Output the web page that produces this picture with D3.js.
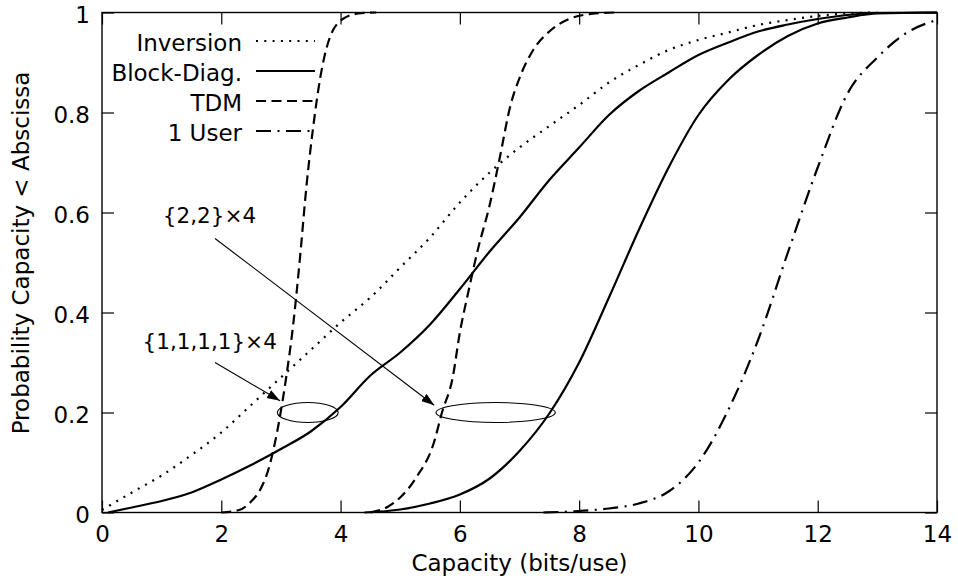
<!DOCTYPE html>
<html>
<head>
<meta charset="utf-8">
<script src="https://cdn.jsdelivr.net/npm/d3@7"></script>
<style>
  body { margin: 0; background: #fff; }
  text { font-family: "DejaVu Sans", sans-serif; font-size: 23px; fill: #000; }
  text.ann { font-size: 21.5px; }
</style>
</head>
<body>
<svg id="chart" width="958" height="579"></svg>
<script>
// CDF curves: [capacity (bits/use), probability]
const inversion = [[0,0.005],[0.5,0.04],[1,0.074],[1.5,0.115],[2,0.16],[2.5,0.215],[3,0.27],[3.5,0.325],
  [4,0.38],[4.5,0.43],[5,0.49],[5.5,0.55],[6,0.62],[6.5,0.68],[7,0.73],[7.5,0.773],[8,0.815],[8.5,0.86],
  [9,0.895],[9.5,0.925],[10,0.945],[10.5,0.96],[11,0.975],[11.5,0.985],[12,0.993],[12.5,0.998],[13,1]];
const blockDiag1111 = [[0.1,0],[0.5,0.01],[1,0.023],[1.5,0.04],[2,0.066],[2.5,0.095],[3,0.127],[3.5,0.162],
  [4,0.211],[4.5,0.274],[5,0.32],[5.5,0.376],[6,0.447],[6.5,0.522],[7,0.59],[7.5,0.665],[8,0.73],[8.5,0.795],
  [9,0.843],[9.5,0.88],[10,0.915],[10.5,0.94],[11,0.962],[11.5,0.976],[12,0.987],[12.5,0.995],[13,0.999],[14,1]];
const blockDiag22 = [[4.4,0],[5,0.006],[5.5,0.018],[6,0.036],[6.5,0.068],[7,0.123],[7.5,0.198],[8,0.3],
  [8.5,0.43],[9,0.565],[9.5,0.69],[10,0.795],[10.5,0.865],[11,0.915],[11.5,0.953],[12,0.978],[12.5,0.99],
  [13,0.998],[14,1]];
const tdm1111 = [[2.0,0],[2.3,0.005],[2.5,0.022],[2.65,0.045],[2.8,0.09],[2.95,0.17],[3.1,0.28],[3.2,0.37],
  [3.32,0.51],[3.43,0.655],[3.54,0.77],[3.66,0.87],[3.82,0.95],[4.05,0.988],[4.3,0.998],[4.6,1]];
const tdm22 = [[4.5,0],[4.8,0.012],[5.0,0.03],[5.28,0.072],[5.56,0.138],[5.7,0.2],[5.88,0.27],[6.0,0.36],
  [6.14,0.44],[6.3,0.525],[6.5,0.615],[6.67,0.71],[6.84,0.81],[7.01,0.872],[7.23,0.925],[7.5,0.962],
  [7.85,0.988],[8.2,0.997],[8.6,1]];
const oneUser = [[7.4,0],[8,0.003],[8.5,0.008],[9,0.018],[9.5,0.042],[10,0.1],[10.5,0.205],[11,0.345],
  [11.5,0.52],[12,0.69],[12.5,0.838],[13,0.91],[13.5,0.96],[14,0.985]];

const xTicks = [0, 2, 4, 6, 8, 10, 12, 14];
const yTicks = [0, 0.2, 0.4, 0.6, 0.8, 1];

const legendLabels = ['Inversion', 'Block-Diag.', 'TDM', '1 User'];

// annotation text, arrow start/end and ellipse (centre + radii) in data units
const annLabels = ['{1,1,1,1}×4', '{2,2}×4'];
const annTextAt = [[0.68, 0.327], [1.02, 0.579]];
const annArrowFrom = [[1.895, 0.3], [1.895, 0.548]];
const annArrowTo = [[2.985, 0.2236], [5.57, 0.2144]];
const annEllipse = [[3.45, 0.2, 0.51, 0.02], [6.6, 0.2, 1.0, 0.02]];

const styles = {
  dotted: '2,6.3',
  solid: null,
  dashed: '10,5.5',
  dashdot: '15,6.5,2,6.5'
};

const series = [
  { data: inversion, dash: styles.dotted },
  { data: blockDiag1111, dash: styles.solid },
  { data: blockDiag22, dash: styles.solid },
  { data: tdm1111, dash: styles.dashed },
  { data: tdm22, dash: styles.dashed },
  { data: oneUser, dash: styles.dashdot }
];
const legendDash = [styles.dotted, styles.solid, styles.dashed, styles.dashdot];

const svg = d3.select('#chart');
const x = d3.scaleLinear().domain([0, 14]).range([102, 937]);
const y = d3.scaleLinear().domain([0, 1]).range([512.5, 12.5]);
const fmt = d3.format('~g');

// axes with inward ticks, mirrored on top/right
const gx = svg.append('g').attr('transform', `translate(0,${y(0)})`)
  .call(d3.axisBottom(x).tickValues(xTicks).tickFormat(fmt).tickSize(-12).tickSizeOuter(0).tickPadding(13));
const gy = svg.append('g').attr('transform', `translate(${x(0)},0)`)
  .call(d3.axisLeft(y).tickValues(yTicks).tickFormat(fmt).tickSize(-12).tickSizeOuter(0).tickPadding(12));
const gxt = svg.append('g').attr('transform', `translate(0,${y(1)})`)
  .call(d3.axisTop(x).tickValues(xTicks).tickFormat('').tickSize(-12).tickSizeOuter(0));
const gyr = svg.append('g').attr('transform', `translate(${x(14)},0)`)
  .call(d3.axisRight(y).tickValues(yTicks).tickFormat('').tickSize(-12).tickSizeOuter(0));

for (const g of [gx, gy, gxt, gyr]) {
  g.select('.domain').remove();
  g.attr('font-family', null).attr('font-size', null);
  g.selectAll('line').attr('stroke', '#000').attr('stroke-width', 1.2);
}
gy.selectAll('text').attr('dy', '0.43em');

svg.append('rect')
  .attr('x', x(0)).attr('y', y(1))
  .attr('width', x(14) - x(0)).attr('height', y(0) - y(1))
  .attr('fill', 'none').attr('stroke', '#000').attr('stroke-width', 1.4);

// axis titles
svg.append('text').attr('x', (x(0) + x(14)) / 2).attr('y', 571)
  .attr('text-anchor', 'middle').text('Capacity (bits/use)');
svg.append('text').attr('transform', 'translate(29,253) rotate(-90)')
  .attr('text-anchor', 'middle').text('Probability Capacity < Abscissa');

// curves
const line = d3.line().x(d => x(d[0])).y(d => y(d[1])).curve(d3.curveMonotoneX);
svg.append('g').selectAll('path').data(series).join('path')
  .attr('d', d => line(d.data))
  .attr('fill', 'none').attr('stroke', '#000').attr('stroke-width', 2.2)
  .attr('stroke-dasharray', d => d.dash);

// legend
const leg = svg.append('g').selectAll('g').data(legendLabels).join('g')
  .attr('transform', (d, i) => `translate(0,${50.5 + i * 30})`);
leg.append('text').attr('x', 242).attr('text-anchor', 'end').text(d => d);
leg.append('line').attr('x1', 256).attr('x2', 315).attr('y1', -9.5).attr('y2', -9.5)
  .attr('stroke', '#000').attr('stroke-width', 2.2)
  .attr('stroke-dasharray', (d, i) => legendDash[i]);

// annotations
svg.append('defs').append('marker')
  .attr('id', 'arrow').attr('markerUnits', 'userSpaceOnUse')
  .attr('markerWidth', 14).attr('markerHeight', 10)
  .attr('refX', 13).attr('refY', 4.5).attr('orient', 'auto')
  .append('path').attr('d', 'M0,0 L13,4.5 L0,9 z').attr('fill', '#000');

const ann = svg.append('g');
annLabels.forEach((label, i) => {
  ann.append('text').attr('class', 'ann')
    .attr('x', x(annTextAt[i][0])).attr('y', y(annTextAt[i][1])).text(label);
  ann.append('line')
    .attr('x1', x(annArrowFrom[i][0])).attr('y1', y(annArrowFrom[i][1]))
    .attr('x2', x(annArrowTo[i][0])).attr('y2', y(annArrowTo[i][1]))
    .attr('stroke', '#000').attr('stroke-width', 1.1).attr('marker-end', 'url(#arrow)');
  const [cx, cy, rx, ry] = annEllipse[i];
  ann.append('ellipse')
    .attr('cx', x(cx)).attr('cy', y(cy))
    .attr('rx', x(cx + rx) - x(cx)).attr('ry', y(cy) - y(cy + ry))
    .attr('fill', 'none').attr('stroke', '#000').attr('stroke-width', 1.1);
});
</script>
</body>
</html>
